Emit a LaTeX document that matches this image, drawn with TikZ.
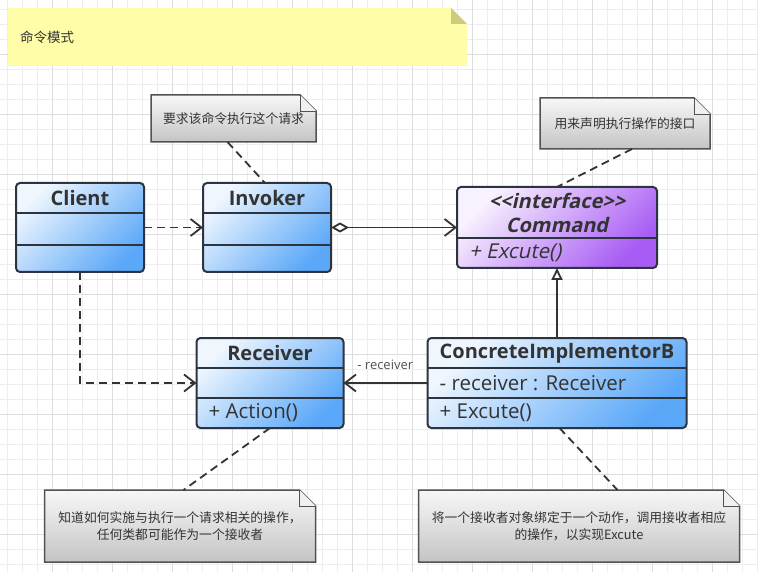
\documentclass[tikz,border=0pt]{standalone}
\usepackage{fontspec}
\setmainfont{Open Sans}
\newfontfamily\slantsans{Open Sans}[FakeSlant=0.22]
\newfontfamily\cjk{Noto Sans CJK SC}
\usetikzlibrary{arrows.meta, positioning, calc, backgrounds}
\definecolor{inkgray}{RGB}{51, 51, 51}
\definecolor{boxline}{RGB}{44, 52, 64}
\definecolor{classblue}{RGB}{92, 168, 248}
\definecolor{classpurple}{RGB}{168, 92, 244}
\definecolor{notegray}{RGB}{196, 196, 196}
\definecolor{noteline}{RGB}{82, 82, 82}
\definecolor{stickyyellow}{RGB}{255, 253, 168}
\definecolor{stickyfold}{RGB}{204, 204, 122}
\definecolor{gridminor}{RGB}{237, 237, 237}
\definecolor{gridmajor}{RGB}{221, 221, 221}

\begin{document}
\begin{tikzpicture}[
    x=1pt, y=-1pt,
    classbox/.style={rectangle, draw=boxline, line width=2pt, rounded corners=4pt, inner sep=0pt, outer sep=0pt, top color=white!90!classblue, bottom color=classblue, shading angle=45},
    ifacebox/.style={classbox, top color=white!92!classpurple, bottom color=classpurple, shading angle=45},
    divider/.style={draw=boxline, line width=2pt},
    classname/.style={inner sep=0pt, text=inkgray, font=\fontsize{20}{24}\selectfont\bfseries},
    member/.style={inner sep=0pt, anchor=west, text=inkgray, font=\fontsize{20.5}{24}\selectfont},
    notebox/.style={rectangle, inner sep=0pt, outer sep=0pt, align=center, text=inkgray, font=\cjk\fontsize{12.8}{17}\selectfont},
    noteedge/.style={draw=noteline, line width=1.5pt, top color=white!97!black, bottom color=notegray},
    notefold/.style={draw=noteline, line width=0.8pt, fill=white!94!black},
    connector/.style={draw=inkgray, line width=1.8pt},
    dep/.style={connector, dash pattern=on 8pt off 5pt, -{Straight Barb[length=11pt, width=17pt]}},
    assoc/.style={connector, -{Straight Barb[length=11pt, width=17pt]}},
    aggr/.style={connector, {Diamond[open, length=18pt, width=10pt]}-{Straight Barb[length=11pt, width=17pt]}},
    realize/.style={connector, -{Triangle[open, length=12pt, width=11pt]}},
    tether/.style={connector, dash pattern=on 8pt off 5pt}
]
    \useasboundingbox (0,0) rectangle (758,572);

    % paper grid
    \begin{scope}[on background layer]
        \fill[white] (0,0) rectangle (758,572);
        \foreach \k in {0,...,50}
            \draw[gridminor, line width=0.8pt] ({7+15*\k},0) -- ({7+15*\k},572);
        \foreach \k in {0,...,37}
            \draw[gridminor, line width=0.8pt] (0,{9+15*\k}) -- (758,{9+15*\k});
        \foreach \k in {0,...,11}
            \draw[gridmajor, line width=0.8pt] ({52+60*\k},0) -- ({52+60*\k},572);
        \foreach \k in {0,...,8}
            \draw[gridmajor, line width=0.8pt] (0,{54+60*\k}) -- (758,{54+60*\k});
    \end{scope}

    \node[notebox, minimum width=459pt, minimum height=58pt, text width=435pt, align=left, font=\cjk\fontsize{13.5}{16}\selectfont] (modetitle) at (237.5,37) {命令模式};

    % classes
    \node[classbox, minimum width=128pt, minimum height=89pt] (client) at (80,227.5) {};
    \node[classbox, minimum width=128pt, minimum height=89pt, right=59pt of client] (invoker) {};
    \node[ifacebox, minimum width=200pt, minimum height=81pt, right=126pt of invoker] (command) {};
    \node[classbox, minimum width=259pt, minimum height=90pt, below=70pt of command] (implb) {};
    \node[classbox, minimum width=147pt, minimum height=90pt, left=84pt of implb] (receiver) {};

    \draw[divider] ([yshift=-30pt]client.north west) -- ([yshift=-30pt]client.north east);
    \draw[divider] ([yshift=-62pt]client.north west) -- ([yshift=-62pt]client.north east);
    \node[classname] (clientname) at ([yshift=-15pt]client.north) {Client};

    \draw[divider] ([yshift=-30pt]invoker.north west) -- ([yshift=-30pt]invoker.north east);
    \draw[divider] ([yshift=-62pt]invoker.north west) -- ([yshift=-62pt]invoker.north east);
    \node[classname] (invokername) at ([yshift=-15pt]invoker.north) {Invoker};

    \draw[divider] ([yshift=-51pt]command.north west) -- ([yshift=-51pt]command.north east);
    \node[classname, align=center, font=\slantsans\fontsize{20}{24}\selectfont\bfseries] (commandname) at ([yshift=-25.5pt]command.north) {<\kern0pt<interface>\kern0pt>\\Command};
    \node[member, font=\slantsans\fontsize{20.5}{24}\selectfont] (commandop) at ([xshift=12pt, yshift=15pt]command.south west) {+ Excute()};

    \draw[divider] ([yshift=-30pt]receiver.north west) -- ([yshift=-30pt]receiver.north east);
    \draw[divider] ([yshift=-60pt]receiver.north west) -- ([yshift=-60pt]receiver.north east);
    \node[classname] (receivername) at ([yshift=-15pt]receiver.north) {Receiver};
    \node[member] (receiverop) at ([xshift=12pt, yshift=15pt]receiver.south west) {+ Action()};

    \draw[divider] ([yshift=-30pt]implb.north west) -- ([yshift=-30pt]implb.north east);
    \draw[divider] ([yshift=-60pt]implb.north west) -- ([yshift=-60pt]implb.north east);
    \node[classname] (implbname) at ([yshift=-15pt]implb.north) {ConcreteImplementorB};
    \node[member] (implbattr) at ([xshift=12pt]implb.west) {- receiver : Receiver};
    \node[member] (implbop) at ([xshift=12pt, yshift=15pt]implb.south west) {+ Excute()};

    % notes
    \node[notebox, minimum width=165pt, minimum height=47pt, above=41pt of invoker, xshift=-33.5pt] (noteinv) {要求该命令执行这个请求};
    \node[notebox, minimum width=170pt, minimum height=51pt, above=38pt of command, xshift=68pt] (notecmd) {用来声明执行操作的接口};
    \node[notebox, minimum width=271pt, minimum height=72pt, below=62pt of receiver, xshift=-90pt] (noterecv) {知道如何实施与执行一个请求相关的操作，\\任何类都可能作为一个接收者};
    \node[notebox, minimum width=321pt, minimum height=72pt, below=62pt of implb, xshift=22pt] (noteimpl) {将一个接收者对象绑定于一个动作，调用接收者相应\\的操作，以实现Excute};

    \begin{scope}[on background layer]
        \fill[stickyyellow] (modetitle.south west) -- (modetitle.north west) -- ([xshift=-16pt]modetitle.north east) -- ([yshift=-16pt]modetitle.north east) -- (modetitle.south east) -- cycle;
        \fill[stickyfold] ([xshift=-16pt]modetitle.north east) -- ([xshift=-16pt, yshift=-16pt]modetitle.north east) -- ([yshift=-16pt]modetitle.north east) -- cycle;
        \foreach \nt in {noteinv,notecmd,noterecv,noteimpl} {
            \draw[noteedge] (\nt.south west) -- (\nt.north west) -- ([xshift=-16pt]\nt.north east) -- ([yshift=-16pt]\nt.north east) -- (\nt.south east) -- cycle;
            \draw[notefold] ([xshift=-16pt]\nt.north east) -- ([xshift=-16pt, yshift=-16pt]\nt.north east) -- ([yshift=-16pt]\nt.north east);
        }
    \end{scope}

    % connectors
    \draw[dep] (client) -- (invoker);
    \draw[aggr] (invoker) -- (command);
    \draw[realize] (implb) -- (command);
    \draw[assoc] (implb) -- node[pos=1, anchor=south west, inner sep=0pt, xshift=13pt, yshift=12pt, text=inkgray!85, font=\fontsize{13}{15}\selectfont] (recvrole) {- receiver} (receiver);
    \draw[dep] (client) |- (receiver);

    \draw[tether] ([xshift=-6pt]noteinv.south) -- ([xshift=-2pt]invoker.north);
    \draw[tether] ([xshift=7pt]notecmd.south) -- (command.north);
    \draw[tether] (receiver.south) -- ([xshift=3.5pt]noterecv.north);
    \draw[tether] ([xshift=2.5pt]implb.south) -- ([xshift=38.5pt]noteimpl.north);
\end{tikzpicture}
\end{document}
